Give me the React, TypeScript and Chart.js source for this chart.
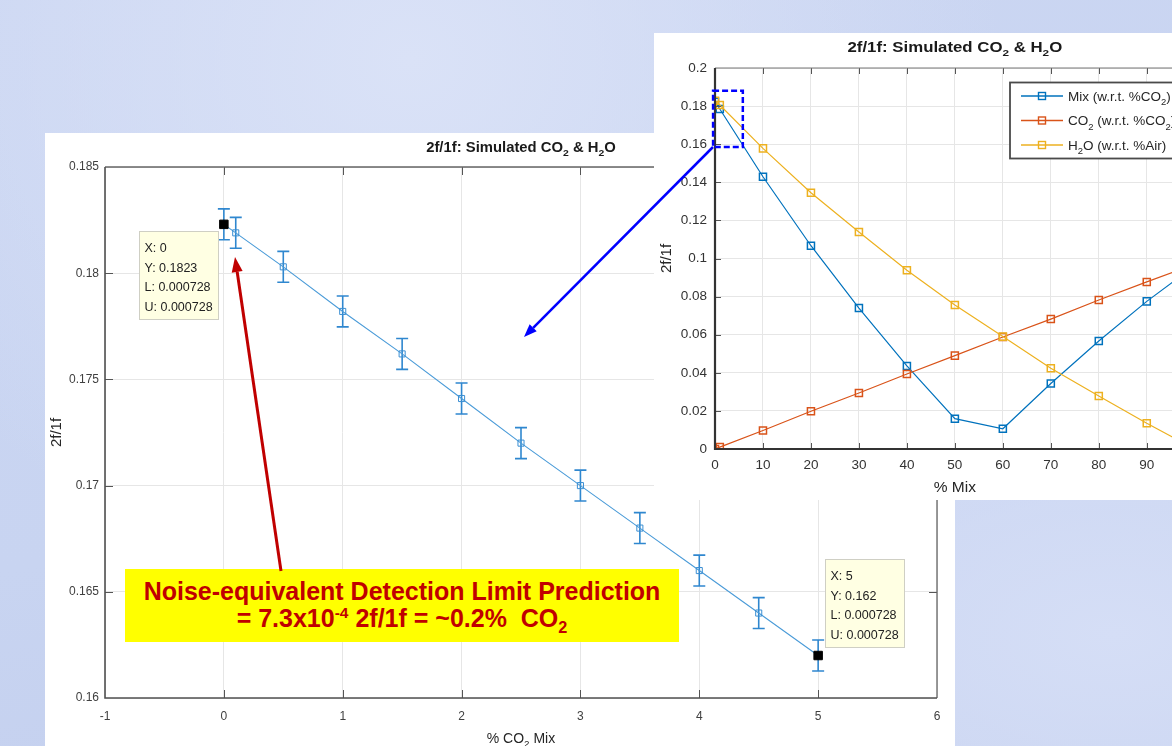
import React, { useEffect, useRef } from 'react';
import { Chart, registerables } from 'chart.js';
Chart.register(...registerables);

const FONT = '"Liberation Sans", Arial, Helvetica, sans-serif';
Chart.defaults.font.family = FONT;

// ---------- main chart data ----------
const mainX = [0, 0.1, 0.5, 1, 1.5, 2, 2.5, 3, 3.5, 4, 4.5, 5];
const mainY = [0.1823, 0.1819, 0.1803, 0.1782, 0.1762, 0.1741, 0.172, 0.17, 0.168, 0.166, 0.164, 0.162];
const mainErr = [0.000728, 0.000728, 0.000728, 0.000728, 0.000728, 0.000728, 0.000728, 0.000728, 0.000728, 0.000728, 0.000728, 0.000728];
const tipIndex = [0, 11];
const tipLines = [
  ['X: 0', 'Y: 0.1823', 'L: 0.000728', 'U: 0.000728'],
  ['X: 5', 'Y: 0.162', 'L: 0.000728', 'U: 0.000728'],
];
const mainXTicks = [-1, 0, 1, 2, 3, 4, 5, 6];
const mainYTicks = [0.16, 0.165, 0.17, 0.175, 0.18, 0.185];

// ---------- inset chart data ----------
const insetX = [0, 1, 10, 20, 30, 40, 50, 60, 70, 80, 90, 100];
const mixY = [0.1823, 0.1785, 0.1429, 0.1067, 0.074, 0.0436, 0.0159, 0.0106, 0.0344, 0.0567, 0.0775, 0.0962];
const co2Y = [0, 0.001, 0.0097, 0.0198, 0.0294, 0.0394, 0.049, 0.0588, 0.0682, 0.0782, 0.0877, 0.097];
const h2oY = [0.1828, 0.1806, 0.1578, 0.1345, 0.1139, 0.0938, 0.0756, 0.059, 0.0424, 0.0278, 0.0135, 0.0];
const insetXTicks = [0, 10, 20, 30, 40, 50, 60, 70, 80, 90, 100];
const insetYTicks = [0, 0.02, 0.04, 0.06, 0.08, 0.1, 0.12, 0.14, 0.16, 0.18, 0.2];
const zoomBoxX = [-0.4, 5.8];
const zoomBoxY = [0.1585, 0.188];

type Part = [string, number];
const titleParts: Part[] = [['2f/1f: Simulated CO', 0], ['2', 1], [' & H', 0], ['2', 1], ['O', 0]];
const mainXTitle: Part[] = [['% CO', 0], ['2', 1], [' Mix', 0]];
const yTitle: Part[] = [['2f/1f', 0]];
const insetXTitle: Part[] = [['% Mix', 0]];
const legendLabels: Part[][] = [
  [['Mix (w.r.t. %CO', 0], ['2', 1], [')', 0]],
  [['CO', 0], ['2', 1], [' (w.r.t. %CO', 0], ['2', 1], [')', 0]],
  [['H', 0], ['2', 1], ['O (w.r.t. %Air)', 0]],
];
const seriesColors = ['#0072BD', '#D95319', '#EDB120'];

const fmt = (v: number) => Number(v.toFixed(4)).toString();

function drawRich(ctx: CanvasRenderingContext2D, parts: Part[], x: number, y: number, size: number, weight: string, align: string, color: string, sx = 1) {
  const f = (s: number) => `${weight} ${s}px ${FONT}`;
  let w = 0;
  for (const p of parts) {
    ctx.font = f(p[1] ? size * 0.7 : size);
    w += ctx.measureText(p[0]).width;
  }
  ctx.save();
  ctx.translate(x, y);
  ctx.scale(sx, 1);
  let cx = align === 'center' ? -w / 2 : align === 'right' ? -w : 0;
  ctx.textAlign = 'left';
  ctx.textBaseline = 'alphabetic';
  ctx.fillStyle = color;
  for (const p of parts) {
    ctx.font = f(p[1] ? size * 0.7 : size);
    const dy = p[1] === 1 ? size * 0.32 : p[1] === -1 ? -size * 0.4 : 0;
    ctx.fillText(p[0], cx, dy);
    cx += ctx.measureText(p[0]).width;
  }
  ctx.restore();
}

function drawFrame(chart: any, tickLen: number, lbColor: string, lbWidth: number, trColor: string, trWidth: number) {
  const ctx = chart.ctx as CanvasRenderingContext2D;
  const a = chart.chartArea;
  const xs = chart.scales.x, ys = chart.scales.y;
  ctx.save();
  ctx.strokeStyle = '#555';
  ctx.lineWidth = 1;
  ctx.beginPath();
  for (const t of xs.ticks) {
    const px = Math.round(xs.getPixelForValue(t.value)) + 0.5;
    if (px <= a.left + 1 || px >= a.right - 1) continue;
    ctx.moveTo(px, a.bottom); ctx.lineTo(px, a.bottom - tickLen);
    ctx.moveTo(px, a.top); ctx.lineTo(px, a.top + tickLen);
  }
  for (const t of ys.ticks) {
    const py = Math.round(ys.getPixelForValue(t.value)) + 0.5;
    if (py <= a.top + 1 || py >= a.bottom - 1) continue;
    ctx.moveTo(a.left, py); ctx.lineTo(a.left + tickLen, py);
    ctx.moveTo(a.right, py); ctx.lineTo(a.right - tickLen, py);
  }
  ctx.stroke();
  ctx.strokeStyle = trColor;
  ctx.lineWidth = trWidth;
  ctx.beginPath();
  ctx.moveTo(a.left, a.top); ctx.lineTo(a.right, a.top); ctx.lineTo(a.right, a.bottom);
  ctx.stroke();
  ctx.strokeStyle = lbColor;
  ctx.lineWidth = lbWidth;
  ctx.beginPath();
  ctx.moveTo(a.left, a.top); ctx.lineTo(a.left, a.bottom); ctx.lineTo(a.right, a.bottom);
  ctx.stroke();
  ctx.restore();
}

const tipBoxOffset = [[-85, 7], [7, -97]];
const tipBoxSize = [79, 88];

const mainPlugin = {
  id: 'mainDeco',
  beforeDatasetsDraw(chart: any) {
    const ctx = chart.ctx as CanvasRenderingContext2D;
    const xs = chart.scales.x, ys = chart.scales.y;
    ctx.save();
    ctx.strokeStyle = '#2f87cf';
    ctx.lineWidth = 1.6;
    ctx.beginPath();
    mainX.forEach((xv, i) => {
      const px = xs.getPixelForValue(xv);
      const lo = ys.getPixelForValue(mainY[i] - mainErr[i]);
      const hi = ys.getPixelForValue(mainY[i] + mainErr[i]);
      ctx.moveTo(px, lo); ctx.lineTo(px, hi);
      ctx.moveTo(px - 6, lo); ctx.lineTo(px + 6, lo);
      ctx.moveTo(px - 6, hi); ctx.lineTo(px + 6, hi);
    });
    ctx.stroke();
    ctx.restore();
  },
  afterDraw(chart: any) {
    const ctx = chart.ctx as CanvasRenderingContext2D;
    const a = chart.chartArea;
    const xs = chart.scales.x, ys = chart.scales.y;
    drawFrame(chart, 8, '#505050', 1.6, '#666', 1.3);
    const cx = (a.left + a.right) / 2;
    drawRich(ctx, titleParts, cx, 19, 14, 'bold', 'center', '#1a1a1a', 1.06);
    drawRich(ctx, mainXTitle, cx, 610, 14, 'normal', 'center', '#262626');
    ctx.save();
    ctx.translate(16, (a.top + a.bottom) / 2);
    ctx.rotate(-Math.PI / 2);
    drawRich(ctx, yTitle, 0, 0, 15, 'normal', 'center', '#262626');
    ctx.restore();
    tipIndex.forEach((idx, k) => {
      const px = xs.getPixelForValue(mainX[idx]);
      const py = ys.getPixelForValue(mainY[idx]);
      const bx = Math.round(px + tipBoxOffset[k][0]) + 0.5;
      const by = Math.round(py + tipBoxOffset[k][1]) + 0.5;
      ctx.save();
      ctx.fillStyle = '#ffffe3';
      ctx.strokeStyle = '#cfcfc4';
      ctx.lineWidth = 1;
      ctx.fillRect(bx, by, tipBoxSize[0], tipBoxSize[1]);
      ctx.strokeRect(bx, by, tipBoxSize[0], tipBoxSize[1]);
      ctx.fillStyle = '#222';
      ctx.font = `12.5px ${FONT}`;
      ctx.textBaseline = 'middle';
      ctx.textAlign = 'left';
      tipLines[k].forEach((s, j) => ctx.fillText(s, bx + 5, by + 17 + j * 19.6));
      ctx.restore();
    });
  },
};

const insetPlugin = {
  id: 'insetDeco',
  afterDraw(chart: any) {
    const ctx = chart.ctx as CanvasRenderingContext2D;
    const a = chart.chartArea;
    const xs = chart.scales.x, ys = chart.scales.y;
    drawFrame(chart, 6, '#333', 2.2, '#777', 1);
    const cx = (a.left + a.right) / 2;
    drawRich(ctx, titleParts, cx, 19, 14, 'bold', 'center', '#1a1a1a', 1.2);
    drawRich(ctx, insetXTitle, cx, 459, 15.5, 'normal', 'center', '#262626');
    ctx.save();
    ctx.translate(17, (a.top + a.bottom) / 2);
    ctx.rotate(-Math.PI / 2);
    drawRich(ctx, yTitle, 0, 0, 15, 'normal', 'center', '#262626');
    ctx.restore();
    ctx.save();
    ctx.fillStyle = '#fff';
    ctx.strokeStyle = '#4a4a4a';
    ctx.lineWidth = 1.8;
    ctx.fillRect(356, 49.5, 200, 76);
    ctx.strokeRect(356, 49.5, 200, 76);
    legendLabels.forEach((lab, i) => {
      const y = 63 + i * 24.5;
      ctx.strokeStyle = seriesColors[i];
      ctx.lineWidth = 1.3;
      ctx.beginPath();
      ctx.moveTo(367, y); ctx.lineTo(409, y);
      ctx.stroke();
      ctx.lineWidth = 1.4;
      ctx.strokeRect(384.5, y - 3.5, 7, 7);
      drawRich(ctx, lab, 414, y + 4.8, 13.5, 'normal', 'left', '#262626');
    });
    ctx.restore();
    ctx.save();
    ctx.strokeStyle = '#0000ff';
    ctx.lineWidth = 2.5;
    ctx.setLineDash([6, 3]);
    const x0 = xs.getPixelForValue(zoomBoxX[0]), x1 = xs.getPixelForValue(zoomBoxX[1]);
    const y0 = ys.getPixelForValue(zoomBoxY[1]), y1 = ys.getPixelForValue(zoomBoxY[0]);
    ctx.strokeRect(x0, y0, x1 - x0, y1 - y0);
    ctx.restore();
  },
};

const arrowHead = (x1: number, y1: number, x2: number, y2: number, len: number, hw: number) => {
  const dx = x2 - x1, dy = y2 - y1, L = Math.hypot(dx, dy), ux = dx / L, uy = dy / L;
  const bx = x2 - ux * len, by = y2 - uy * len;
  return { bx, by, pts: `${x2},${y2} ${bx - uy * hw},${by + ux * hw} ${bx + uy * hw},${by - ux * hw}` };
};

export default function App() {
  const mainRef = useRef<HTMLCanvasElement>(null);
  const insetRef = useRef<HTMLCanvasElement>(null);

  useEffect(() => {
    const gridCfg = { color: '#e6e6e6', lineWidth: 1, drawTicks: false };
    const c1 = new Chart(mainRef.current!, {
      type: 'scatter',
      data: {
        datasets: [
          {
            label: 'tips',
            data: tipIndex.map((i) => ({ x: mainX[i], y: mainY[i] })),
            showLine: false,
            pointStyle: 'rect',
            pointRadius: 6,
            pointBackgroundColor: '#000',
            pointBorderColor: '#000',
            pointBorderWidth: 1,
            order: 0,
          },
          {
            label: 'Mix',
            data: mainX.map((x, i) => ({ x, y: mainY[i] })),
            showLine: true,
            borderColor: '#4a9bd8',
            borderWidth: 1.1,
            pointStyle: 'rect',
            pointRadius: 4.3,
            pointBorderWidth: 1,
            pointBorderColor: '#3b8fd3',
            pointBackgroundColor: 'rgba(0,0,0,0)',
            order: 1,
          },
        ] as any,
      },
      options: {
        responsive: false,
        animation: false,
        events: [],
        layout: { padding: { top: 34, right: 18, left: 0, bottom: 0 } },
        plugins: { legend: { display: false }, tooltip: { enabled: false }, title: { display: false } },
        scales: {
          x: {
            type: 'linear',
            min: -1,
            max: 6,
            afterBuildTicks: (s: any) => { s.ticks = mainXTicks.map((v) => ({ value: v })); },
            afterFit: (s: any) => { s.height = 48; },
            grid: gridCfg,
            border: { display: false },
            ticks: { padding: 11, color: '#404040', font: { family: FONT, size: 12 }, maxRotation: 0, autoSkip: false, callback: (v: any) => fmt(Number(v)) },
          },
          y: {
            type: 'linear',
            min: 0.16,
            max: 0.185,
            afterBuildTicks: (s: any) => { s.ticks = mainYTicks.map((v) => ({ value: v })); },
            afterFit: (s: any) => { s.width = 60; },
            grid: gridCfg,
            border: { display: false },
            ticks: { padding: 6, color: '#404040', font: { family: FONT, size: 12 }, autoSkip: false, callback: (v: any) => fmt(Number(v)) },
          },
        },
      } as any,
      plugins: [mainPlugin],
    });

    const mk = (ys: number[], i: number, order: number) => ({
      label: 'S' + i,
      data: insetX.map((x, k) => ({ x, y: ys[k] })),
      showLine: true,
      borderColor: seriesColors[i],
      borderWidth: 1.2,
      pointStyle: 'rect',
      pointRadius: 5,
      pointBorderWidth: 1.5,
      pointBorderColor: seriesColors[i],
      pointBackgroundColor: 'rgba(0,0,0,0)',
      order,
    });

    const c2 = new Chart(insetRef.current!, {
      type: 'scatter',
      data: { datasets: [mk(mixY, 0, 2), mk(co2Y, 1, 1), mk(h2oY, 2, 0)] as any },
      options: {
        responsive: false,
        animation: false,
        events: [],
        layout: { padding: { top: 35, right: 16, left: 0, bottom: 0 } },
        plugins: { legend: { display: false }, tooltip: { enabled: false }, title: { display: false } },
        scales: {
          x: {
            type: 'linear',
            min: 0,
            max: 100,
            afterBuildTicks: (s: any) => { s.ticks = insetXTicks.map((v) => ({ value: v })); },
            afterFit: (s: any) => { s.height = 51; },
            grid: gridCfg,
            border: { display: false },
            ticks: { padding: 8, color: '#333', font: { family: FONT, size: 13.5 }, maxRotation: 0, autoSkip: false, callback: (v: any) => fmt(Number(v)) },
          },
          y: {
            type: 'linear',
            min: 0,
            max: 0.2,
            afterBuildTicks: (s: any) => { s.ticks = insetYTicks.map((v) => ({ value: v })); },
            afterFit: (s: any) => { s.width = 61; },
            grid: gridCfg,
            border: { display: false },
            ticks: { padding: 8, color: '#333', font: { family: FONT, size: 13.5 }, autoSkip: false, callback: (v: any) => fmt(Number(v)) },
          },
        },
      } as any,
      plugins: [insetPlugin],
    });

    return () => { c1.destroy(); c2.destroy(); };
  }, []);

  const red = arrowHead(281, 571, 235, 257, 15, 5.5);
  const blue = arrowHead(713, 147, 524, 337, 13, 5);

  return (
    <div
      style={{
        position: 'fixed', left: 0, top: 0, width: 1172, height: 746, overflow: 'hidden',
        background: 'radial-gradient(ellipse at 35% 8%, rgba(218,226,247,1) 0%, rgba(218,226,247,0) 55%), radial-gradient(ellipse at 95% 85%, rgba(213,222,246,1) 0%, rgba(213,222,246,0) 45%), linear-gradient(170deg, #cbd6f2 0%, #c8d4f1 60%, #c3cfee 100%)',
      }}
    >
      <div style={{ position: 'absolute', left: 45, top: 133, width: 910, height: 613, background: '#fff' }}>
        <canvas ref={mainRef} width={910} height={613} style={{ display: 'block', width: 910, height: 613 }} />
      </div>
      <div style={{ position: 'absolute', left: 654, top: 33, width: 560, height: 467, background: '#fff' }}>
        <canvas ref={insetRef} width={560} height={467} style={{ display: 'block', width: 560, height: 467 }} />
      </div>
      <div
        style={{
          position: 'absolute', left: 125, top: 569, width: 554, height: 73, boxSizing: 'border-box',
          paddingTop: 9, background: '#ffff00', color: '#c00000', fontFamily: FONT, fontWeight: 'bold',
          fontSize: 25, lineHeight: '27px', textAlign: 'center', whiteSpace: 'nowrap',
        }}
      >
        <div>Noise-equivalent Detection Limit Prediction</div>
        <div>
          = 7.3x10<span style={{ fontSize: '0.62em', position: 'relative', top: '-0.6em' }}>-4</span> 2f/1f = ~0.2%{'\u00a0'} CO
          <span style={{ fontSize: '0.65em', position: 'relative', top: '0.35em' }}>2</span>
        </div>
      </div>
      <svg width={1172} height={746} style={{ position: 'absolute', left: 0, top: 0, pointerEvents: 'none' }}>
        <line x1={281} y1={571} x2={red.bx} y2={red.by} stroke="#c00000" strokeWidth={3} />
        <polygon points={red.pts} fill="#c00000" />
        <line x1={713} y1={147} x2={blue.bx} y2={blue.by} stroke="#0000ff" strokeWidth={2.5} />
        <polygon points={blue.pts} fill="#0000ff" />
      </svg>
    </div>
  );
}
